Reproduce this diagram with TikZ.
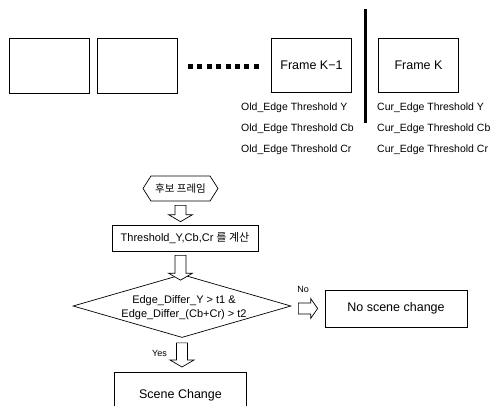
\documentclass[tikz,border=0pt]{standalone}
\usepackage{fontspec}
\setmainfont{Liberation Sans}
\newfontfamily\krfont{Noto Sans CJK KR}
\usetikzlibrary{shapes.geometric,shapes.symbols,calc}

\tikzset{
	frm/.style={draw, line width=0.8pt, minimum width=80pt, minimum height=55pt, inner sep=0pt, font=\fontsize{12.5}{15}\selectfont},
	thr/.style={anchor=west, inner sep=0pt, font=\fontsize{10.5}{12}\selectfont},
	flow/.style={draw, line width=0.7pt, inner sep=0pt, font=\fontsize{11}{14}\selectfont},
	blk/.style={draw, line width=0.7pt, fill=white, line join=miter},
	lbl/.style={inner sep=0pt, font=\fontsize{9}{11}\selectfont},
}

% hollow block arrows between two points
\newcommand\downblock[2]{%
	\draw [blk] let \p1=(#1), \p2=(#2) in
		(\x1-5.5pt,\y1) -- (\x1+5.5pt,\y1) -- (\x1+5.5pt,\y2+7pt) -- (\x1+12pt,\y2+7pt)
		-- (\x1,\y2) -- (\x1-12pt,\y2+7pt) -- (\x1-5.5pt,\y2+7pt) -- cycle;}
\newcommand\rightblock[2]{%
	\draw [blk] let \p1=(#1), \p2=(#2) in
		(\x1,\y1+5.5pt) -- (\x2-7pt,\y1+5.5pt) -- (\x2-7pt,\y1+10pt) -- (\x2,\y1)
		-- (\x2-7pt,\y1-10pt) -- (\x2-7pt,\y1-5.5pt) -- (\x1,\y1-5.5pt) -- cycle;}

\begin{document}
\begin{tikzpicture}[x=1pt, y=-1pt]
		\useasboundingbox (0,0) rectangle (492,405);
		\clip (0,0) rectangle (492,405);

		% frame sequence
		\node [frm] (fa) at (49,65.5) {};
		\node [frm] (fb) at (137,65.5) {};
		\foreach \i in {0,...,7}
			\fill (188+\i*9.4,63.5) rectangle ++(5,5);
		\node [frm, minimum height=54pt] (fprev) at (311.5,65) {Frame K−1};
		\node [frm, minimum height=54pt] (fcur) at (418.5,65) {Frame K};
		\draw [line width=3pt] (365,9) -- (365,123);

		\node [thr] (oy) at (241,108) {Old\_Edge Threshold Y};
		\node [thr] (ocb) at (241,129) {Old\_Edge Threshold Cb};
		\node [thr] (ocr) at (241,150) {Old\_Edge Threshold Cr};
		\node [thr] (cy) at (377,108) {Cur\_Edge Threshold Y};
		\node [thr] (ccb) at (377,129) {Cur\_Edge Threshold Cb};
		\node [thr] (ccr) at (377,150) {Cur\_Edge Threshold Cr};

		% flow chart
		\node [flow, signal, signal to=west and east, signal pointer angle=115, minimum width=75pt, minimum height=25pt, font=\krfont\fontsize{10.5}{12}\selectfont] (cand) at (180.5,188.5) {후보 프레임};
		\node [flow, minimum width=146pt, minimum height=26pt] (thrbox) at (185,238) {Threshold\_Y,Cb,Cr {\krfont 를 계산}};
		\node [flow, diamond, minimum width=218pt, minimum height=63pt] (test) at (182,306) {};
		\node [inner sep=0pt, align=center, font=\fontsize{11}{14}\selectfont] (testtxt) at (184,308) {Edge\_Differ\_Y > t1 \&\\Edge\_Differ\_(Cb+Cr) > t2};
		\node [flow, minimum width=142pt, minimum height=37pt, font=\fontsize{12.5}{15}\selectfont] (nochg) at (396,308.5) {No scene change};
		\node [flow, anchor=north, minimum width=132pt, minimum height=46pt, font=\fontsize{12.5}{15}\selectfont] (chg) at (180.5,372) {Scene Change};

		\downblock{$(cand.south)+(0,4)$}{$(cand.south |- thrbox.north)+(0,-3)$}
		\downblock{$(cand.south |- thrbox.south)+(0,4)$}{$(cand.south |- test.north)+(0,6)$}
		\downblock{$(test.south)+(0,5)$}{$(chg.north)+(0,-5)$}
		\rightblock{$(test.east |- nochg.west)+(7,0)$}{$(nochg.west)+(-7,0)$}

		\node [lbl, anchor=east] (yes) at (167,353) {Yes};
		\node [lbl] (no) at (303,289) {No};
	\end{tikzpicture}
\end{document}
